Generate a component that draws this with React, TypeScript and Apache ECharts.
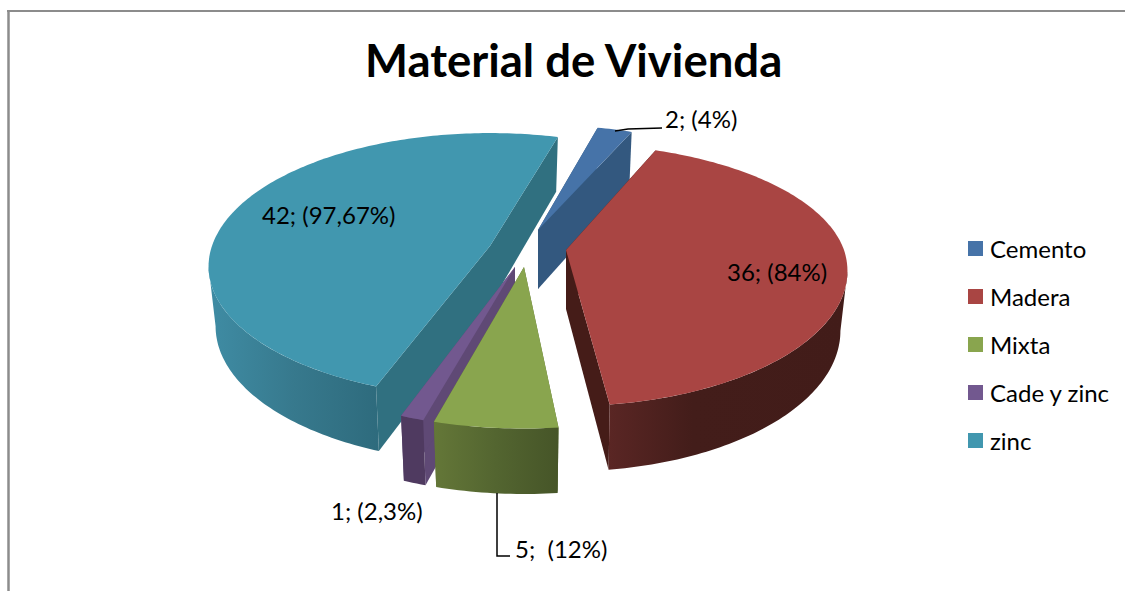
import React, { useEffect, useRef } from "react";
import * as echarts from "echarts";

const titleText = "Material de Vivienda";
const categories = ["Cemento", "Madera", "Mixta", "Cade y zinc", "zinc"];
const seriesValues = [2, 36, 5, 1, 42];
const dataLabels = ["2; (4%)", "36; (84%)", "5;  (12%)", "1; (2,3%)", "42; (97,67%)"];
const topColors = ["#4673a8", "#a94543", "#89a54e", "#72588f", "#4197af"];
const cutColors = ["#33587f", "#451c18", "#5a6d33", "#5f4975", "#307080"];
const wallFrom = ["#33587f", "#5a2624", "#647738", "#4f3a60", "#3f8ca4"];
const wallMid = ["#33587f", "#431d1a", "#536530", "#4f3a60", "#37798d"];
const wallTo = ["#2f5275", "#421c19", "#465528", "#4f3a60", "#2e6b7d"];

const FONT = "Lato";
const START_ANGLE = 15.5;
const RX = 278;
const RY = 128;
const PERSP = 0.156;
const DEPTH = 59;
const total = seriesValues.reduce((a, b) => a + b, 0);

// slice geometry: apex x, apex y, front stretch, back stretch, rotation nudge, width stretch
const apexes = [
  [538, 230, 0.95, 0.95, -1.2, 1],
  [566, 250, 1.03, 0.96, -2.2, 1],
  [524, 267, 1.065, 1, -0.3, 1.05],
  [515, 267, 1.06, 1, 0.8, 1],
  [490, 246, 1, 1.02, 0.8, 1],
];
const labelAt = [[665, 118], [727, 271], [515, 548], [331, 510], [262, 214]];
const zOrder = [2, 4, 6, 5, 3];
const leaders: number[][][] = [
  [[615, 131], [628, 129], [662, 128]],
  [],
  [[497, 493], [497, 556], [510, 556]],
  [],
  [],
];

function project(deg: number, i: number) {
  const t = (deg * Math.PI) / 180;
  const X = Math.sin(t);
  const Y = -Math.cos(t);
  const w = 1 - PERSP * Y;
  const stretch = Y >= 0 ? apexes[i][2] : apexes[i][3];
  return [apexes[i][0] + (apexes[i][5] * RX * X) / w, apexes[i][1] + (stretch * RY * Y) / w];
}
function lower(p: number[], i: number) {
  return [apexes[i][0] + (p[0] - apexes[i][0]) * 0.975, p[1] + DEPTH + 0.04 * (p[1] - apexes[i][1])];
}
function arc(from: number, to: number, i: number) {
  const pts: number[][] = [];
  const n = Math.max(2, Math.ceil(Math.abs(to - from)));
  for (let k = 0; k <= n; k++) pts.push(project(from + ((to - from) * k) / n, i));
  return pts;
}

function renderSlice(i: number) {
  return (_params: any, api: any) => {
    const value = api.value(0);
    const before = seriesValues.slice(0, i).reduce((a, b) => a + b, 0);
    const a0 = START_ANGLE + apexes[i][4] + (before / total) * 360;
    const a1 = a0 + (value / total) * 360;
    const apex = [apexes[i][0], apexes[i][1]];
    const apexLow = lower(apex, i);
    const p0 = project(a0, i);
    const p1 = project(a1, i);
    const children: any[] = [];
    // cut faces
    [p0, p1].forEach((p) => {
      children.push({
        type: "polygon",
        shape: { points: [apex, p, lower(p, i), apexLow] },
        style: { fill: cutColors[i] },
      });
    });
    // outer wall: only the part that faces the viewer
    const w0 = Math.max(a0, 99);
    const w1 = Math.min(a1, 261);
    if (w1 > w0) {
      const top = arc(w0, w1, i);
      const bottom = top.map((p) => lower(p, i)).reverse();
      const stops =
        i === 1
          ? [
              { offset: 0, color: wallFrom[i] },
              { offset: 0.35, color: wallMid[i] },
              { offset: 1, color: wallTo[i] },
            ]
          : [
              { offset: 0, color: wallFrom[i] },
              { offset: 0.5, color: wallMid[i] },
              { offset: 1, color: wallTo[i] },
            ];
      children.push({
        type: "polygon",
        shape: { points: top.concat(bottom) },
        style: { fill: new echarts.graphic.LinearGradient(0, 0, 1, 0, stops) },
      });
    }
    // top face
    children.push({
      type: "polygon",
      shape: { points: [apex].concat(arc(a0, a1, i)) },
      style: { fill: topColors[i] },
    });
    if (leaders[i].length) {
      children.push({
        type: "polyline",
        shape: { points: leaders[i] },
        style: { stroke: "#000", lineWidth: 1.5, fill: "none" },
      });
    }
    children.push({
      type: "text",
      z2: 100,
      style: {
        text: dataLabels[i],
        x: labelAt[i][0],
        y: labelAt[i][1],
        fill: "#000",
        font: `24px ${FONT}`,
        textAlign: "left",
        textVerticalAlign: "middle",
      },
    });
    return { type: "group", children };
  };
}

export default function App() {
  const ref = useRef<HTMLDivElement>(null);
  useEffect(() => {
    const chart = echarts.init(ref.current!, undefined, { renderer: "svg" });
    chart.setOption({
      animation: false,
      backgroundColor: "#fff",
      title: {
        text: titleText,
        left: 360,
        top: 31,
        textStyle: { fontFamily: FONT, fontWeight: "bold", fontSize: 45.5, color: "#000" },
      },
      legend: {
        orient: "vertical",
        left: 968,
        top: 236.5,
        padding: 0,
        icon: "rect",
        itemWidth: 15,
        itemHeight: 15,
        itemGap: 24,
        selectedMode: false,
        data: categories,
        textStyle: { fontFamily: FONT, fontSize: 24, color: "#000", padding: [0, 0, 0, 2] },
      },
      graphic: [
        { type: "line", shape: { x1: 7, y1: 11, x2: 1125, y2: 11 }, style: { stroke: "#8c8c8c", lineWidth: 2 } },
        { type: "line", shape: { x1: 8.5, y1: 10, x2: 8.5, y2: 591 }, style: { stroke: "#8c8c8c", lineWidth: 2.5 } },
      ],
      series: categories.map((name, i) => ({
        type: "custom",
        name,
        coordinateSystem: "none",
        z: zOrder[i],
        clip: false,
        silent: true,
        itemStyle: { color: topColors[i] },
        renderItem: renderSlice(i),
        data: [seriesValues[i]],
      })),
    });
    return () => chart.dispose();
  }, []);
  return <div ref={ref} style={{ position: "fixed", left: 0, top: 0, width: 1125, height: 591 }} />;
}
